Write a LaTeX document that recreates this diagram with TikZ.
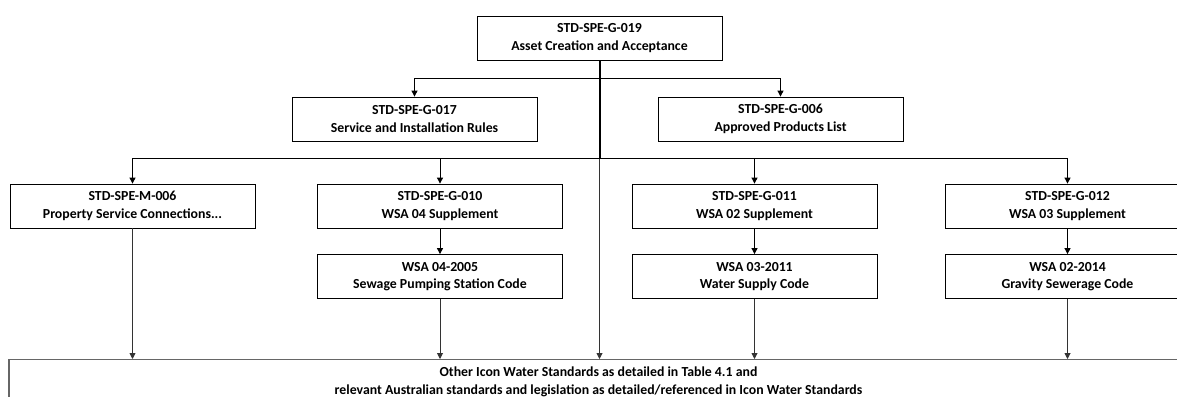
\documentclass[tikz,border=0pt]{standalone}
\usepackage{fontspec}
\setmainfont{Carlito}
\usetikzlibrary{arrows.meta}

\tikzset{
  stdbox/.style={draw, line width=0.8pt, minimum width=245pt, minimum height=44pt,
    inner sep=2pt, align=center, font=\fontsize{13.8}{17.5}\selectfont\bfseries},
  link/.style={line width=0.9pt, -{Triangle[length=6pt,width=6pt]}},
}

\begin{document}
\begin{tikzpicture}[x=1pt,y=-1pt]
  \path[use as bounding box, fill=white] (0,0) rectangle (1177,396);
  \clip (0,0) rectangle (1177,396);

  \node[stdbox] (g019) at (599.5,38) {STD-SPE-G-019\\Asset Creation and Acceptance};

  \node[stdbox] (g017) at (414.5,119) {STD-SPE-G-017\\Service and Installation Rules};
  \node[stdbox] (g006) at (780.5,119) {STD-SPE-G-006\\Approved Products List};

  \node[stdbox] (m006) at (132.5,206) {STD-SPE-M-006\\Property Service Connections...};
  \node[stdbox] (g010) at (440,206) {STD-SPE-G-010\\WSA 04 Supplement};
  \node[stdbox] (g011) at (754.5,206) {STD-SPE-G-011\\WSA 02 Supplement};
  \node[stdbox] (g012) at (1067.5,206) {STD-SPE-G-012\\WSA 03 Supplement};

  \node[stdbox] (wsa04) at (440,276.5) {WSA 04-2005\\Sewage Pumping Station Code};
  \node[stdbox] (wsa03) at (754.5,276.5) {WSA 03-2011\\Water Supply Code};
  \node[stdbox] (wsa02) at (1067.5,276.5) {WSA 02-2014\\Gravity Sewerage Code};

  \node[stdbox, draw=black!60, line width=1.3pt, anchor=north, minimum width=1179pt,
    inner sep=5pt] (others) at (598.5,359)
    {Other Icon Water Standards as detailed in Table 4.1 and\\
     relevant Australian standards and legislation as detailed/referenced in Icon Water Standards};

  \coordinate (hub1) at (599.5,78);
  \coordinate (hub2) at (599.5,158);

  % trunk
  \draw[line width=2pt] (g019) -- (hub2);
  \draw[link, black!80] (hub2) -- (hub2 |- others.north);

  \draw[link] (hub1) -| (g017);
  \draw[link] (hub1) -| (g006);

  \draw[link] (hub2) -| (m006);
  \draw[link] (hub2) -| (g010);
  \draw[link] (hub2) -| (g011);
  \draw[link] (hub2) -| (g012);

  \draw[link] (g010) -- (wsa04);
  \draw[link] (g011) -- (wsa03);
  \draw[link] (g012) -- (wsa02);

  \begin{scope}[black!80]
    \draw[link] (m006) -- (m006 |- others.north);
    \draw[link] (wsa04) -- (wsa04 |- others.north);
    \draw[link] (wsa03) -- (wsa03 |- others.north);
    \draw[link] (wsa02) -- (wsa02 |- others.north);
  \end{scope}

\end{tikzpicture}
\end{document}
